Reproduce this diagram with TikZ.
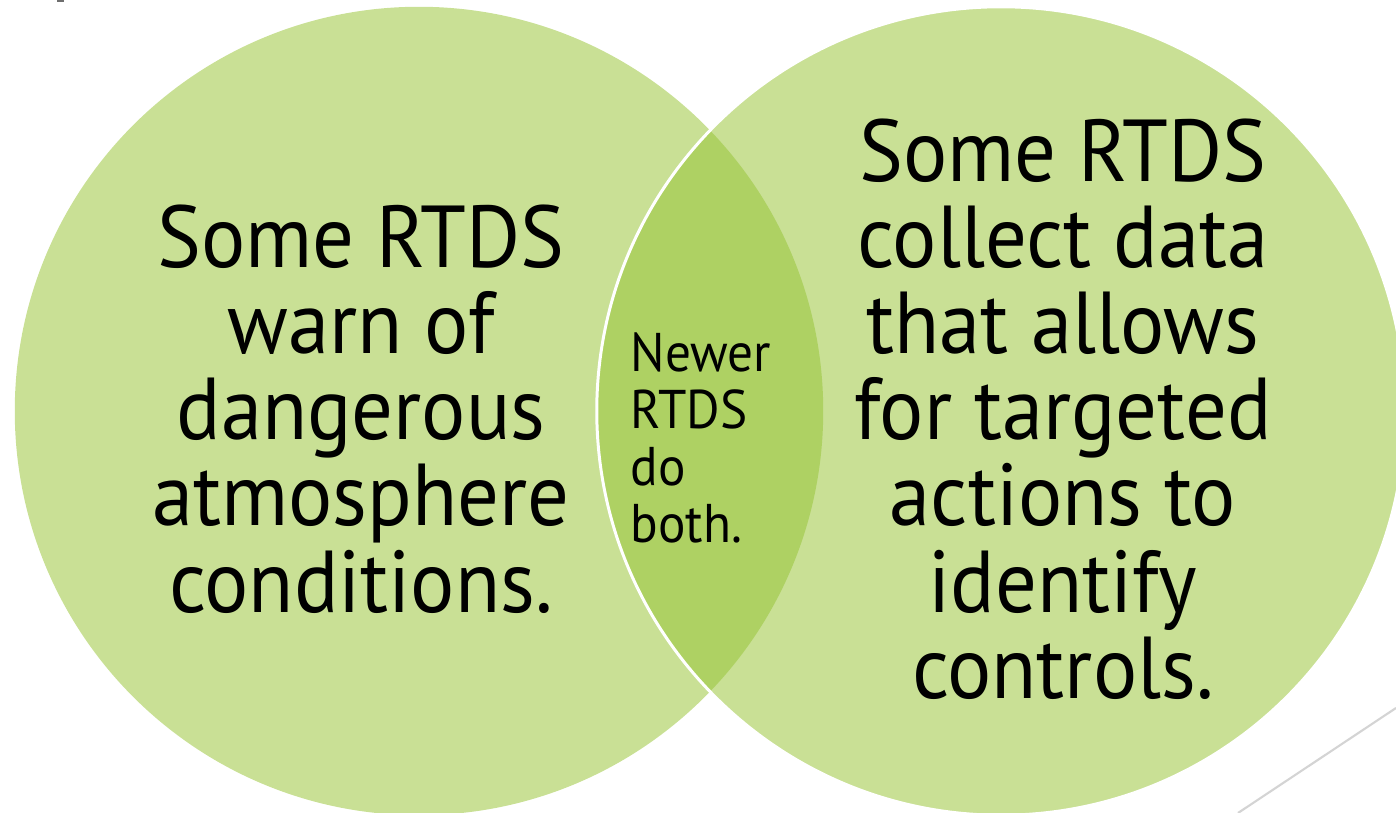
\documentclass[tikz,border=0pt]{standalone}
\usepackage{fontspec}
\setmainfont[FakeStretch=0.94]{PT Sans}

\definecolor{limeLight}{HTML}{C9E095}
\definecolor{limeDark}{HTML}{AED163}
\definecolor{lineGray}{HTML}{D4D4D4}
\definecolor{markGray}{HTML}{6E6E6E}

\begin{document}
\begin{tikzpicture}[x=0.01cm, y=-0.01cm,
	vennset/.style={circle, fill=limeLight, inner sep=0pt, minimum size=8.08cm},
	bigtext/.style={align=center, inner sep=0pt, font=\fontsize{25}{24.5}\selectfont},
	smalltext/.style={align=left, inner sep=0pt, font=\fontsize{15.5}{16.2}\selectfont}]
	\useasboundingbox (0, 0) rectangle (1396, 813);
	
	\node[vennset] (warnSet) at (419, 411) {}; % left set
	\node[vennset] (dataSet) at (1001, 411) {}; % right set
	
	\begin{scope} % overlap
	\clip (warnSet.center) circle [radius=4.04cm];
	\fill[limeDark] (dataSet.center) circle [radius=4.04cm];
	\end{scope}
	\draw[white, line width=0.85pt] (dataSet.center) circle [radius=4.04cm];
	
	\node[bigtext] (warnText) at (361, 409) {Some RTDS\\warn of\\dangerous\\atmosphere\\conditions.};
	\node[bigtext] (collectText) at (1063, 409) {Some RTDS\\collect data\\that allows\\for targeted\\actions to\\identify\\controls.};
	\node[smalltext, anchor=west] (bothText) at (630, 438) {Newer\\RTDS\\do\\both.};
	
	\fill[markGray] (57, 0) rectangle (64, 2);
	\coordinate (slashLow) at (1238, 813);
	\coordinate (slashHigh) at (1396, 708);
	\draw[lineGray, line width=0.6pt] (slashLow) -- (slashHigh);
\end{tikzpicture}
\end{document}
